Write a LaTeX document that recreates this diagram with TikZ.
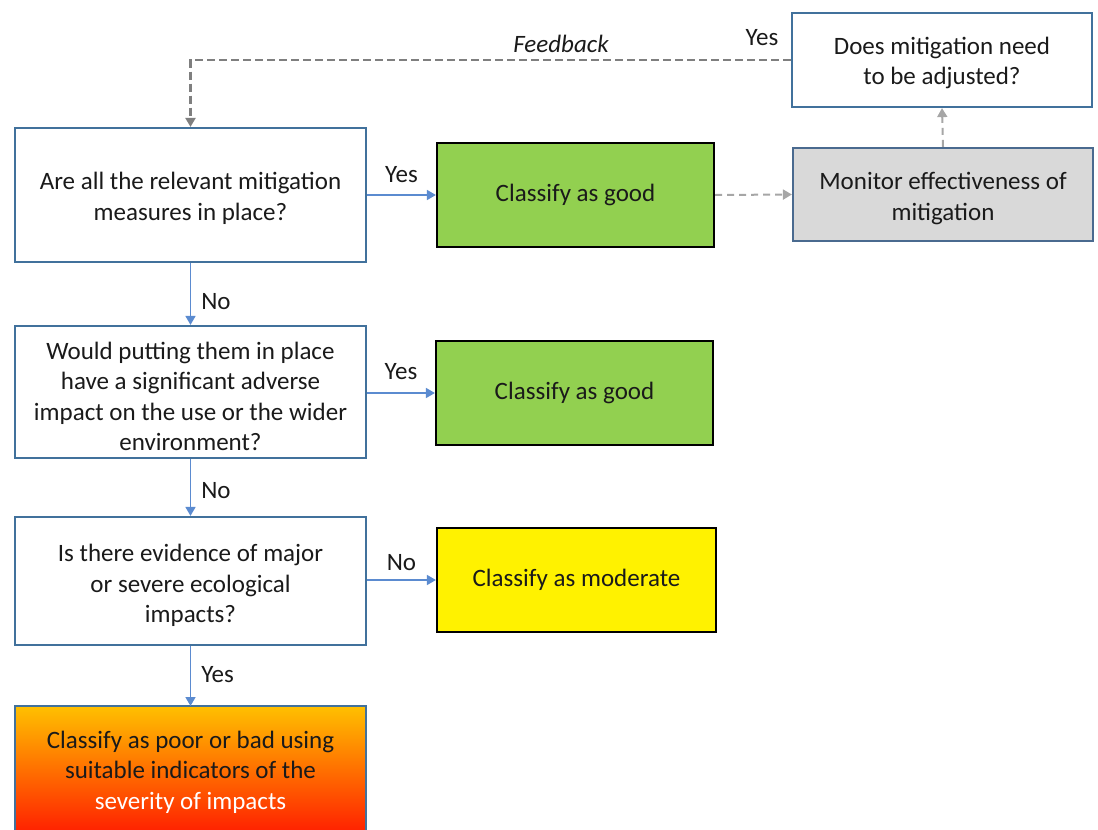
\documentclass[tikz,border=0pt]{standalone}
\usepackage{fontspec}
\setmainfont{Carlito}
\usetikzlibrary{arrows.meta}
\definecolor{bluebd}{HTML}{41719C}
\definecolor{arrowblue}{HTML}{5B8BD0}
\definecolor{greenfill}{HTML}{92D050}
\definecolor{grayfill}{HTML}{D9D9D9}
\definecolor{graybd}{HTML}{4A6A8F}
\definecolor{dashdark}{HTML}{7F7F7F}
\definecolor{dashlight}{HTML}{A6A6A6}
\definecolor{txt}{HTML}{1A1A1A}
\tikzset{
  qbox/.style={draw=bluebd, line width=2.2pt, fill=white, inner sep=0pt},
  gbox/.style={draw=black, line width=2.2pt, fill=greenfill, text=txt, align=center, inner sep=0pt,
    font=\fontsize{25}{30.5}\selectfont},
  qtext/.style={text=txt, align=center, inner sep=0pt, font=\fontsize{25}{30.5}\selectfont},
  flow/.style={draw=arrowblue, line width=1.6pt, -{Triangle[length=9pt,width=10pt]}},
  fb/.style={draw=dashdark, line width=2.4pt, dash pattern=on 8pt off 4pt, -{Triangle[length=9pt,width=10pt]}},
  fbl/.style={draw=dashlight, line width=2pt, dash pattern=on 7pt off 5pt, -{Triangle[length=9pt,width=10pt]}},
  lbl/.style={text=txt, font=\fontsize{25}{28}\selectfont, inner sep=0pt}
}
\begin{document}
\begin{tikzpicture}[x=1pt,y=-1pt]
\useasboundingbox (0,0) rectangle (1098,830);
\clip (0,0) rectangle (1098,830);
% boxes
\node[qbox, minimum width=351pt, minimum height=134pt] (A) at (190.5,195) {};
\node[qtext] (At) at ([yshift=-3.5pt]A.center) {Are all the relevant mitigation\\measures in place?};
\node[gbox, minimum width=277pt, minimum height=104pt] (G1) at (575.5,195) {Classify as good};
\node[qbox, fill=grayfill, draw=graybd, minimum width=300pt, minimum height=93pt] (M) at (943,194.5) {};
\node[qtext] (Mt) at ([yshift=-4pt]M.center) {Monitor effectiveness of\\mitigation};
\node[qbox, minimum width=300pt, minimum height=94pt] (D) at (942,60) {};
\node[qtext] (Dt) at ([yshift=-3pt]D.center) {Does mitigation need\\to be adjusted?};
\node[qbox, minimum width=351pt, minimum height=132pt] (B) at (190.5,392) {};
\node[qtext] (Bt) at ([yshift=-4.5pt]B.center) {Would putting them in place\\have a significant adverse\\impact on the use or the wider\\environment?};
\node[gbox, minimum width=277pt, minimum height=104pt] (G2) at (574.5,393) {Classify as good};
\node[qbox, minimum width=351pt, minimum height=128pt] (C) at (190.5,581) {};
\node[qtext] (Ct) at ([yshift=-4.5pt]C.center) {Is there evidence of major\\or severe ecological\\impacts?};
\node[gbox, fill=yellow, minimum width=279pt, minimum height=104pt] (Y) at (576.5,580) {Classify as moderate};
\draw[draw=bluebd, line width=2.2pt, top color={rgb,255:red,255;green,192;blue,0}, bottom color={rgb,255:red,255;green,10;blue,0}]
  (15,706) rectangle (366,850);
\coordinate (Ptop) at (190.5,706);
\node[qtext] (P) at (190.5,772) {Classify as poor or bad using\\suitable indicators of the\\\textcolor{white}{severity of impacts}};
% flow arrows
\draw[flow] (A.east) -- (G1.west) node[lbl, midway, above=12pt] {Yes};
\draw[flow] (A.south) -- (B.north) node[lbl, pos=0.625, right=10pt] {No};
\draw[flow] (B.east |- G2.west) -- (G2.west) node[lbl, midway, above=13pt] {Yes};
\draw[flow] (B.south) -- (C.north) node[lbl, pos=0.56, right=10pt] {No};
\draw[flow] (C.east |- Y.west) -- (Y.west) node[lbl, midway, above=9pt] {No};
\draw[flow] (C.south) -- (Ptop) node[lbl, pos=0.475, right=10pt] {Yes};
% dashed
\draw[fbl] (G1.east) -- (M.west);
\draw[fbl] (M.north) -- (D.south);
\draw[fb] (D.west) -- (190.5,60) -- (A.north);
\node[lbl, font=\fontsize{25}{28}\itshape] (fbk) at (561,44) {Feedback};
\node[lbl] (yes4) at (762,38) {Yes};
\end{tikzpicture}
\end{document}
